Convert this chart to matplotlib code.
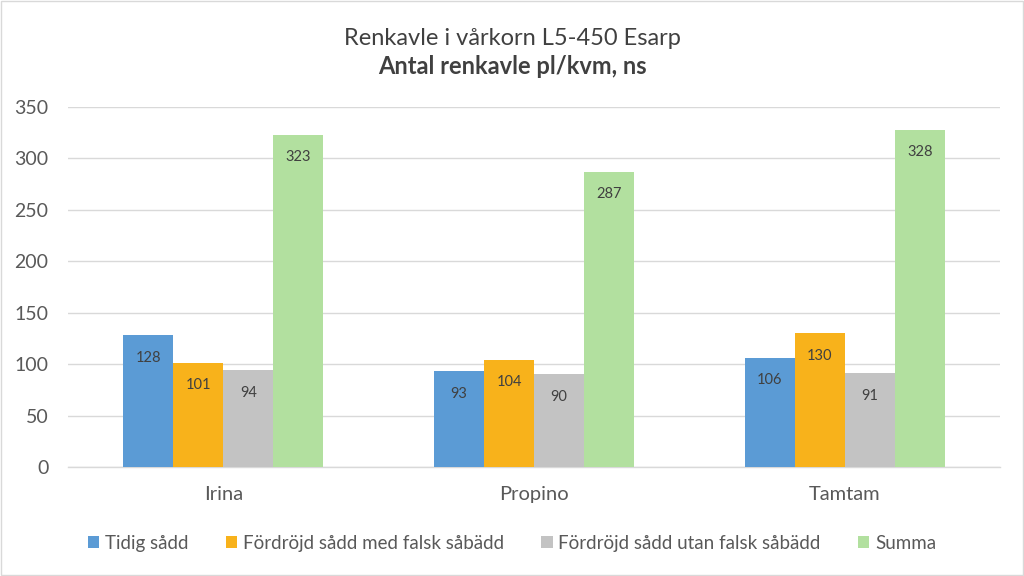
import numpy as np
import matplotlib.pyplot as plt
from matplotlib.patches import Rectangle

plt.rcParams['font.family'] = ['Lato', 'DejaVu Sans']

categories = ["Irina", "Propino", "Tamtam"]
series_names = ["Tidig sådd", "Fördröjd sådd med falsk såbädd",
                "Fördröjd sådd utan falsk såbädd", "Summa"]
tidig = [128, 93, 106]
med_falsk = [101, 104, 130]
utan_falsk = [94, 90, 91]
summa = [323, 287, 328]
yticks = [0, 50, 100, 150, 200, 250, 300, 350]

colors = ["#5B9BD5", "#F8B21B", "#C3C3C3", "#B2E09F"]
text_col = "#404040"
tick_col = "#595959"

fig = plt.figure(figsize=(10.24, 5.76), dpi=100)
ax = fig.add_axes([0.0664, 0.1892, 0.9102, 0.625])

x = np.arange(len(categories))
w = 0.161
all_series = [tidig, med_falsk, utan_falsk, summa]
for k, (vals, name, c) in enumerate(zip(all_series, series_names, colors)):
    pos = x + (k - 1.5) * w
    bars = ax.bar(pos, vals, width=w, color=c, label=name, zorder=3)
    for b, v in zip(bars, vals):
        ax.annotate(str(v), (b.get_x() + b.get_width() / 2, v),
                    xytext=(0, -16), textcoords="offset points",
                    ha="center", va="center", fontsize=10.5, color=text_col, zorder=4)

ax.set_xlim(-0.5, len(categories) - 0.5)
ax.set_ylim(0, 350)
ax.set_yticks(yticks)
ax.set_xticks(x)
ax.set_xticklabels(categories)
ax.grid(axis="y", color="#D9D9D9", linewidth=1, zorder=0)
for s in ["top", "right", "left"]:
    ax.spines[s].set_visible(False)
ax.spines["bottom"].set_color("#D9D9D9")
ax.spines["bottom"].set_linewidth(1)
ax.tick_params(axis="both", length=0, labelsize=14, colors=tick_col)
ax.tick_params(axis="x", pad=14, labelsize=14.5)
ax.tick_params(axis="y", pad=14)

fig.text(0.5, 0.934, "Renkavle i vårkorn L5-450 Esarp", ha="center", va="center",
         fontsize=17, color=text_col)
fig.text(0.5, 0.884, "Antal renkavle pl/kvm, ns", ha="center", va="center",
         fontsize=17, fontweight="bold", color=text_col)

fig.legend(loc="center", bbox_to_anchor=(0.5, 0.057), ncol=4, frameon=False,
           handlelength=0.6, handleheight=0.6, handletextpad=0.3,
           columnspacing=2.0, fontsize=13.5, labelcolor=tick_col)

fig.patches.append(Rectangle((0.001, 0.001), 0.998, 0.998, transform=fig.transFigure,
                             fill=False, edgecolor="#D9D9D9", linewidth=1))

fig.savefig("out.png", dpi=100)
